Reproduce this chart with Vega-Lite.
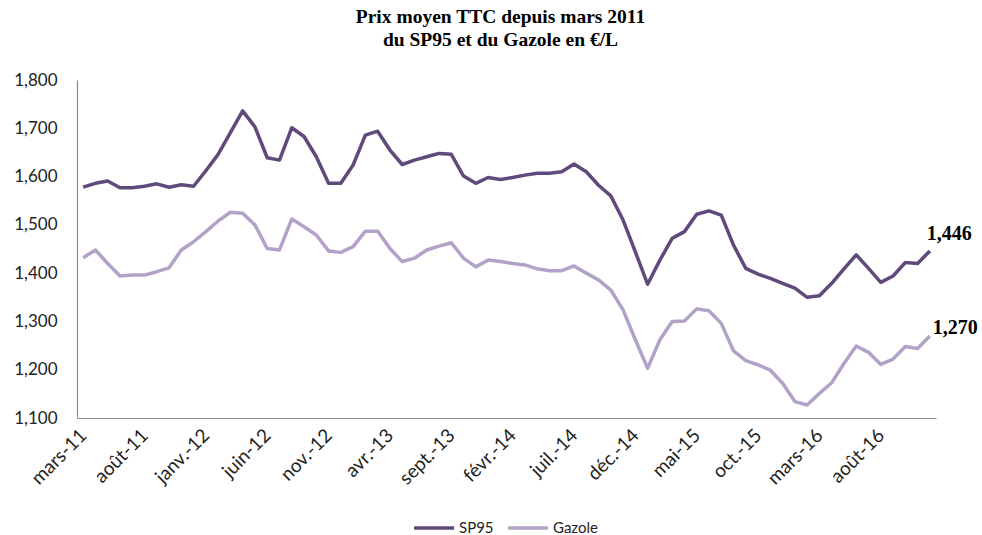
{
  "$schema": "https://vega.github.io/schema/vega-lite/v6.json",
  "width": 859,
  "height": 338,
  "autosize": "none",
  "padding": {"left": 77, "top": 80, "right": 46, "bottom": 117},
  "background": "white",
  "config": {
    "view": {"stroke": null},
    "locale": {"number": {"decimal": ",", "thousands": " ", "grouping": [3], "currency": ["", " €"]}}
  },
  "title": {
    "text": ["Prix moyen TTC depuis mars 2011", "du SP95 et du Gazole  en €/L"],
    "font": "Liberation Serif",
    "fontSize": 19.5,
    "fontWeight": "bold",
    "color": "#000000",
    "anchor": "middle",
    "lineHeight": 23,
    "offset": 21,
    "dx": -6
  },
  "data": {"values": [
    {"mois": "mars-11", "SP95": 1.578, "Gazole": 1.432},
    {"mois": "avr.-11", "SP95": 1.586, "Gazole": 1.448},
    {"mois": "mai-11", "SP95": 1.591, "Gazole": 1.420},
    {"mois": "juin-11", "SP95": 1.577, "Gazole": 1.394},
    {"mois": "juil.-11", "SP95": 1.577, "Gazole": 1.396},
    {"mois": "août-11", "SP95": 1.580, "Gazole": 1.396},
    {"mois": "sept.-11", "SP95": 1.585, "Gazole": 1.403},
    {"mois": "oct.-11", "SP95": 1.578, "Gazole": 1.411},
    {"mois": "nov.-11", "SP95": 1.583, "Gazole": 1.448},
    {"mois": "déc.-11", "SP95": 1.580, "Gazole": 1.465},
    {"mois": "janv.-12", "SP95": 1.612, "Gazole": 1.486},
    {"mois": "févr.-12", "SP95": 1.646, "Gazole": 1.508},
    {"mois": "mars-12", "SP95": 1.691, "Gazole": 1.526},
    {"mois": "avr.-12", "SP95": 1.736, "Gazole": 1.524},
    {"mois": "mai-12", "SP95": 1.703, "Gazole": 1.500},
    {"mois": "juin-12", "SP95": 1.639, "Gazole": 1.451},
    {"mois": "juil.-12", "SP95": 1.634, "Gazole": 1.448},
    {"mois": "août-12", "SP95": 1.701, "Gazole": 1.512},
    {"mois": "sept.-12", "SP95": 1.683, "Gazole": 1.496},
    {"mois": "oct.-12", "SP95": 1.641, "Gazole": 1.479},
    {"mois": "nov.-12", "SP95": 1.586, "Gazole": 1.446},
    {"mois": "déc.-12", "SP95": 1.586, "Gazole": 1.443},
    {"mois": "janv.-13", "SP95": 1.624, "Gazole": 1.455},
    {"mois": "févr.-13", "SP95": 1.686, "Gazole": 1.487},
    {"mois": "mars-13", "SP95": 1.694, "Gazole": 1.487},
    {"mois": "avr.-13", "SP95": 1.655, "Gazole": 1.451},
    {"mois": "mai-13", "SP95": 1.625, "Gazole": 1.424},
    {"mois": "juin-13", "SP95": 1.634, "Gazole": 1.431},
    {"mois": "juil.-13", "SP95": 1.641, "Gazole": 1.448},
    {"mois": "août-13", "SP95": 1.648, "Gazole": 1.456},
    {"mois": "sept.-13", "SP95": 1.646, "Gazole": 1.463},
    {"mois": "oct.-13", "SP95": 1.601, "Gazole": 1.431},
    {"mois": "nov.-13", "SP95": 1.586, "Gazole": 1.413},
    {"mois": "déc.-13", "SP95": 1.598, "Gazole": 1.427},
    {"mois": "janv.-14", "SP95": 1.594, "Gazole": 1.424},
    {"mois": "févr.-14", "SP95": 1.598, "Gazole": 1.420},
    {"mois": "mars-14", "SP95": 1.603, "Gazole": 1.417},
    {"mois": "avr.-14", "SP95": 1.607, "Gazole": 1.409},
    {"mois": "mai-14", "SP95": 1.607, "Gazole": 1.405},
    {"mois": "juin-14", "SP95": 1.610, "Gazole": 1.405},
    {"mois": "juil.-14", "SP95": 1.626, "Gazole": 1.415},
    {"mois": "août-14", "SP95": 1.610, "Gazole": 1.400},
    {"mois": "sept.-14", "SP95": 1.582, "Gazole": 1.386},
    {"mois": "oct.-14", "SP95": 1.560, "Gazole": 1.365},
    {"mois": "nov.-14", "SP95": 1.510, "Gazole": 1.324},
    {"mois": "déc.-14", "SP95": 1.444, "Gazole": 1.262},
    {"mois": "janv.-15", "SP95": 1.377, "Gazole": 1.203},
    {"mois": "févr.-15", "SP95": 1.427, "Gazole": 1.262},
    {"mois": "mars-15", "SP95": 1.472, "Gazole": 1.300},
    {"mois": "avr.-15", "SP95": 1.486, "Gazole": 1.301},
    {"mois": "mai-15", "SP95": 1.522, "Gazole": 1.326},
    {"mois": "juin-15", "SP95": 1.529, "Gazole": 1.322},
    {"mois": "juil.-15", "SP95": 1.520, "Gazole": 1.296},
    {"mois": "août-15", "SP95": 1.458, "Gazole": 1.239},
    {"mois": "sept.-15", "SP95": 1.410, "Gazole": 1.219},
    {"mois": "oct.-15", "SP95": 1.398, "Gazole": 1.210},
    {"mois": "nov.-15", "SP95": 1.389, "Gazole": 1.199},
    {"mois": "déc.-15", "SP95": 1.379, "Gazole": 1.172},
    {"mois": "janv.-16", "SP95": 1.369, "Gazole": 1.134},
    {"mois": "févr.-16", "SP95": 1.350, "Gazole": 1.127},
    {"mois": "mars-16", "SP95": 1.353, "Gazole": 1.151},
    {"mois": "avr.-16", "SP95": 1.379, "Gazole": 1.173},
    {"mois": "mai-16", "SP95": 1.409, "Gazole": 1.213},
    {"mois": "juin-16", "SP95": 1.438, "Gazole": 1.249},
    {"mois": "juil.-16", "SP95": 1.410, "Gazole": 1.236},
    {"mois": "août-16", "SP95": 1.381, "Gazole": 1.211},
    {"mois": "sept.-16", "SP95": 1.394, "Gazole": 1.222},
    {"mois": "oct.-16", "SP95": 1.422, "Gazole": 1.248},
    {"mois": "nov.-16", "SP95": 1.420, "Gazole": 1.244},
    {"mois": "déc.-16", "SP95": 1.446, "Gazole": 1.270}
  ]},
  "transform": [{"fold": ["SP95", "Gazole"], "as": ["carburant", "prix"]}],
  "encoding": {
    "x": {
      "field": "mois", "type": "ordinal", "sort": null,
      "scale": {"type": "point", "padding": 0.5},
      "axis": {
        "title": null,
        "values": ["mars-11", "août-11", "janv.-12", "juin-12", "nov.-12", "avr.-13", "sept.-13", "févr.-14", "juil.-14", "déc.-14", "mai-15", "oct.-15", "mars-16", "août-16"],
        "labelAngle": -45, "labelAlign": "right", "labelBaseline": "middle",
        "labelFont": "Lato", "labelFontSize": 19, "labelColor": "#222222",
        "labelPadding": 14, "labelOverlap": false, "ticks": false, "grid": false,
        "domainColor": "#8c8c8c", "domainWidth": 1.2
      }
    },
    "y": {
      "field": "prix", "type": "quantitative",
      "scale": {"domain": [1.1, 1.8], "zero": false, "nice": false},
      "axis": {
        "title": null, "format": ".3f",
        "values": [1.1, 1.2, 1.3, 1.4, 1.5, 1.6, 1.7, 1.8],
        "labelFont": "Lato", "labelFontSize": 17, "labelColor": "#222222",
        "labelPadding": 20, "labelOverlap": false, "labelBound": false, "ticks": false, "grid": false,
        "domainColor": "#8c8c8c", "domainWidth": 1.2
      }
    }
  },
  "layer": [
    {
      "mark": {"type": "line", "strokeWidth": 3.5, "strokeJoin": "round"},
      "encoding": {
        "color": {
          "field": "carburant", "type": "nominal",
          "scale": {"domain": ["SP95", "Gazole"], "range": ["#604A7B", "#B3A2C7"]},
          "legend": {
            "title": null, "orient": "none", "direction": "horizontal",
            "legendX": 335, "legendY": 426, "gridAlign": "none",
            "symbolType": "stroke", "symbolStrokeWidth": 3.5, "symbolSize": 1600,
            "labelFont": "Lato", "labelFontSize": 15, "labelColor": "#222222",
            "labelOffset": 3, "columnPadding": 7
          }
        }
      }
    },
    {
      "transform": [{"filter": "datum.mois == 'déc.-16' && datum.carburant == 'SP95'"}],
      "mark": {"type": "text", "font": "Liberation Serif", "fontWeight": "bold", "fontSize": 20, "align": "left", "baseline": "middle", "dx": -3, "dy": -17, "color": "#000000"},
      "encoding": {"text": {"field": "prix", "type": "quantitative", "format": ".3f"}}
    },
    {
      "transform": [{"filter": "datum.mois == 'déc.-16' && datum.carburant == 'Gazole'"}],
      "mark": {"type": "text", "font": "Liberation Serif", "fontWeight": "bold", "fontSize": 20, "align": "left", "baseline": "middle", "dx": 3, "dy": -8, "color": "#000000"},
      "encoding": {"text": {"field": "prix", "type": "quantitative", "format": ".3f"}}
    }
  ]
}
